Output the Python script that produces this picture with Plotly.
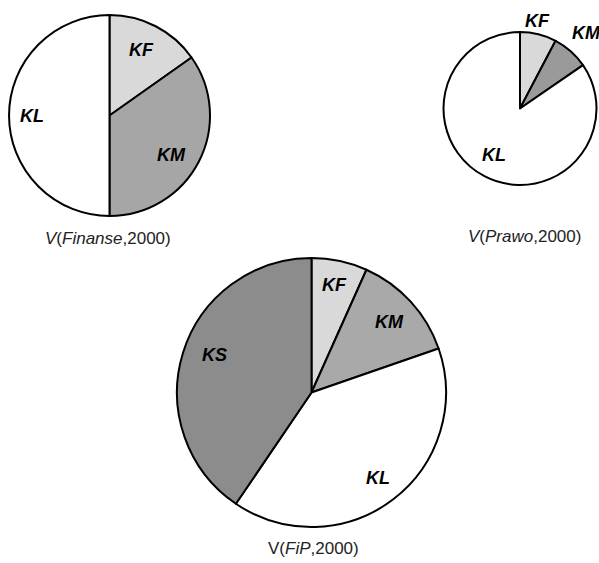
import plotly.graph_objects as go

# ---- data ----
fin_labels = ["KF", "KM", "KL"]
fin_values = [0.152, 0.348, 0.500]
fin_colors = ["#d9d9d9", "#a6a6a6", "#ffffff"]

praw_labels = ["KF", "KM", "KL"]
praw_values = [0.077, 0.077, 0.846]
praw_colors = ["#d9d9d9", "#9a9a9a", "#ffffff"]

fip_labels = ["KF", "KM", "KL", "KS"]
fip_values = [0.067, 0.130, 0.398, 0.405]
fip_colors = ["#d9d9d9", "#a9a9a9", "#ffffff", "#8c8c8c"]

captions = ["V(<i>Finanse</i>,2000)", "V(<i>Prawo</i>,2000)", "V(<i>FiP</i>,2000)"]
cap_italic_v = [True, True, False]

W, H = 599, 563

def px_dom(x0, x1, y0, y1):
    return dict(x=[x0 / W, x1 / W], y=[1 - y1 / H, 1 - y0 / H])

def pie(labels, values, colors, dom):
    return go.Pie(
        labels=labels, values=values, sort=False, direction="clockwise",
        rotation=0, textinfo="none", hoverinfo="label+percent",
        marker=dict(colors=colors, line=dict(color="#000000", width=2)),
        domain=dom, showlegend=False,
    )

fig = go.Figure()
fig.add_trace(pie(fin_labels, fin_values, fin_colors, px_dom(9, 210, 15, 216)))
fig.add_trace(pie(praw_labels, praw_values, praw_colors, px_dom(443.5, 596.5, 32, 185)))
fig.add_trace(pie(fip_labels, fip_values, fip_colors, px_dom(177, 446, 258, 527)))

lab_font = dict(family="Liberation Sans, Arial, sans-serif", size=18, color="#000000")
cap_font = dict(family="Liberation Sans, Arial, sans-serif", size=17, color="#222222")

# label positions (pixels)
slice_labels = [
    ("KF", 141, 50), ("KM", 171, 155), ("KL", 32, 116),
    ("KF", 537, 21), ("KM", 586, 33), ("KL", 494, 155),
    ("KF", 334, 285), ("KM", 389, 322), ("KS", 214, 355), ("KL", 378, 478),
]
annotations = []
for t, x, y in slice_labels:
    annotations.append(dict(
        text="<b><i>%s</i></b>" % t, x=x / W, y=1 - y / H, xref="paper", yref="paper",
        showarrow=False, xanchor="center", yanchor="middle", font=lab_font))

cap_pos = [(108, 238), (524, 236), (313, 548)]
for (x, y), c, iv in zip(cap_pos, captions, cap_italic_v):
    txt = ("<i>V</i>" + c[1:]) if iv else c
    annotations.append(dict(
        text=txt, x=x / W, y=1 - y / H, xref="paper", yref="paper",
        showarrow=False, xanchor="center", yanchor="middle", font=cap_font))

fig.update_layout(
    width=W, height=H, margin=dict(l=0, r=0, t=0, b=0),
    paper_bgcolor="#ffffff", plot_bgcolor="#ffffff",
    annotations=annotations, showlegend=False,
)

fig.write_html("out.html", config={"displayModeBar": False},
               post_script="document.body.style.margin='0px';document.body.style.overflow='hidden';")
